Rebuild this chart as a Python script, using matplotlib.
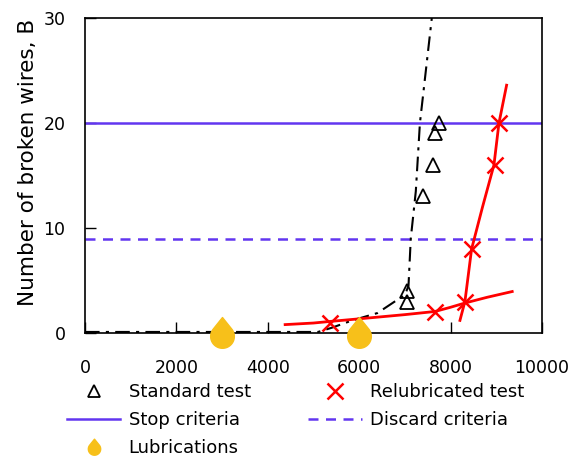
import numpy as np
import matplotlib
matplotlib.use('Agg')
import matplotlib.pyplot as plt
from matplotlib.path import Path
from matplotlib.lines import Line2D

# measured points
std_x = [7040, 7040, 7400, 7620, 7660, 7750]
std_y = [4, 3, 13, 16, 19, 20]
relub_x = [5360, 7660, 8310, 8460, 8970, 9050]
relub_y = [1, 2, 3, 8, 16, 20]

# trend lines
std_fit_x = [0, 1000, 2000, 3000, 4000, 5100, 5400, 5850, 6400, 6780, 7000, 7080, 7130, 7240, 7330, 7460, 7590]
std_fit_y = [0.1, 0.1, 0.1, 0.1, 0.1, 0.1, 0.5, 1.2, 1.9, 3.0, 3.6, 4.5, 9, 13.5, 20, 25, 30]
relub_fit1_x = [4380, 5000, 5360, 6000, 6500, 7000, 7660, 8000, 8310, 8800, 9350]
relub_fit1_y = [0.8, 0.95, 1.1, 1.35, 1.55, 1.75, 2.05, 2.45, 2.85, 3.4, 3.95]
relub_fit2_x = [8206, 8315, 8461, 8700, 8950, 9060, 9227]
relub_fit2_y = [1.2, 3, 8, 12, 16, 20, 23.6]

stop_level = 20
discard_level = 9
lub_x = [3000, 6000]
lub_y = [0, 0]

blue = '#6236f0'
gold = '#f7c01a'

# droplet marker, body a bit below the point
ang = np.radians(np.linspace(39, -219, 60))
verts = [(0, 1.35)] + [(np.cos(a), np.sin(a) - 0.25) for a in ang] + [(0, 1.35)]
drop = Path(verts, closed=True)

plt.rcParams['font.family'] = 'DejaVu Sans'
fig = plt.figure(figsize=(5.69, 4.59), dpi=100)
ax = fig.add_axes([0.1494, 0.2745, 0.803, 0.6863])

ax.axhline(stop_level, color=blue, lw=1.8)
ax.axhline(discard_level, color=blue, lw=1.8, ls=(0, (4, 3)))
ax.plot(std_fit_x, std_fit_y, color='black', lw=1.5, ls=(0, (7, 3, 1.5, 3)))
ax.plot(relub_fit1_x, relub_fit1_y, color='red', lw=2)
ax.plot(relub_fit2_x, relub_fit2_y, color='red', lw=2)
ax.plot(std_x, std_y, ls='none', marker='^', ms=10, mfc='none', mec='black', mew=1.3)
ax.plot(relub_x, relub_y, ls='none', marker='x', ms=11, color='red', mew=1.8)
ax.plot(lub_x, lub_y, ls='none', marker=drop, ms=23, color=gold, clip_on=False, zorder=5)

ax.set_xlim(0, 10000)
ax.set_ylim(0, 30)
ax.set_xticks(range(0, 10001, 2000))
ax.set_yticks([0, 10, 20, 30])
ax.tick_params(direction='in', length=8, width=1, labelsize=12.5)
ax.tick_params(axis='x', pad=19)
ax.tick_params(axis='y', pad=14)
for s in ax.spines.values():
    s.set_linewidth(1.2)
ax.set_ylabel('Number of broken wires, B', fontsize=15.5)
ax.yaxis.set_label_coords(-0.103, 0.54)

handles = [
    Line2D([], [], ls='none', marker='^', ms=9, mfc='none', mec='black', mew=1.3),
    Line2D([], [], color=blue, lw=1.8),
    Line2D([], [], ls='none', marker=drop, ms=12, color=gold),
    Line2D([], [], ls='none', marker='x', ms=11, color='red', mew=1.8),
    Line2D([], [], color=blue, lw=1.8, ls=(0, (4, 3))),
]
labels = ['Standard test', 'Stop criteria', 'Lubrications', 'Relubricated test', 'Discard criteria']
fig.legend(handles, labels, loc='upper left', bbox_to_anchor=(0.118, 0.165), ncol=2,
           frameon=False, fontsize=13, handlelength=2.95, handletextpad=0.45,
           columnspacing=3.2, labelspacing=0.55, borderaxespad=0, borderpad=0)

fig.savefig('out.png', dpi=100)
